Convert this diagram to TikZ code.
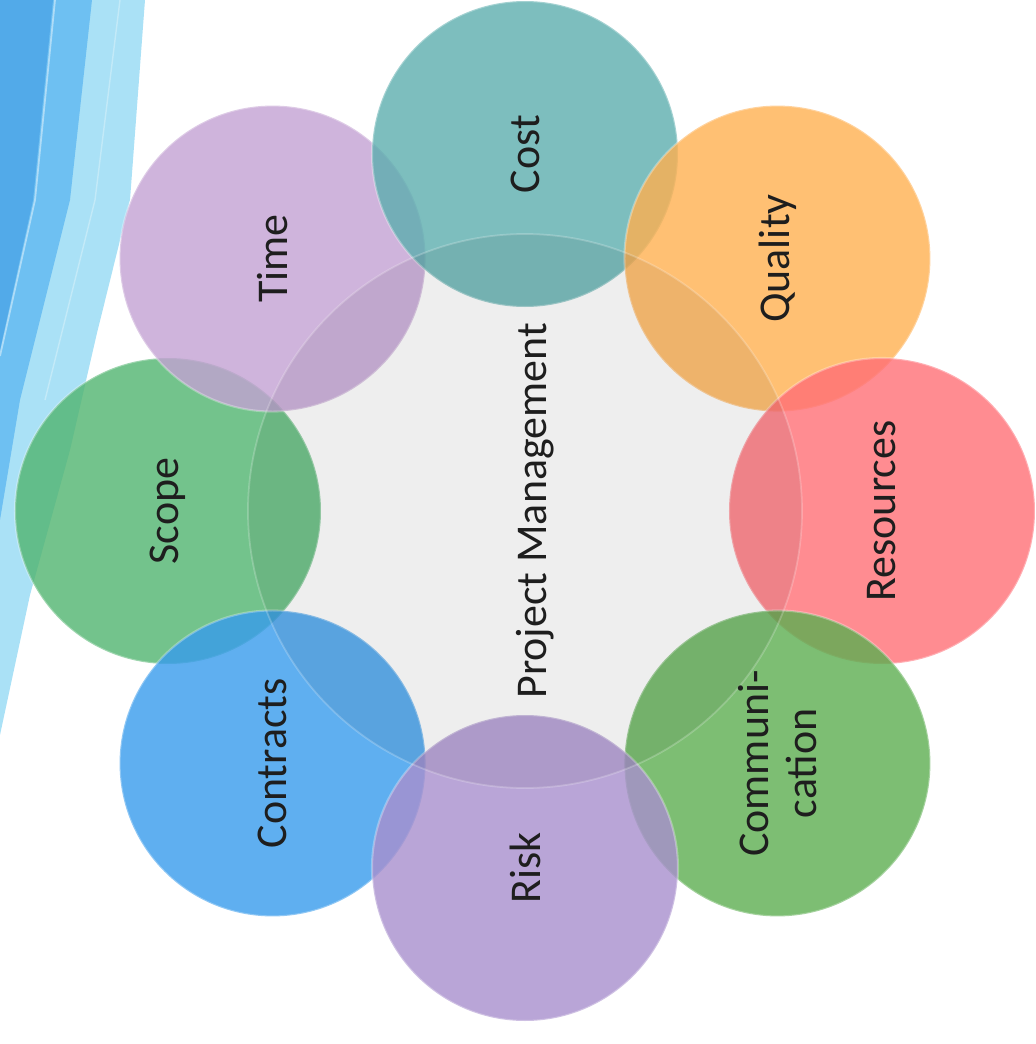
\documentclass[tikz,border=0pt]{standalone}
\usepackage{fontspec}
\setmainfont{Carlito}

\definecolor{costcol}{RGB}{92,174,174}
\definecolor{timecol}{RGB}{195,161,211}
\definecolor{qualcol}{RGB}{255,176,80}
\definecolor{rescol}{RGB}{255,111,118}
\definecolor{commcol}{RGB}{92,174,80}
\definecolor{riskcol}{RGB}{168,143,205}
\definecolor{contcol}{RGB}{55,155,236}
\definecolor{scopecol}{RGB}{80,180,111}
\definecolor{stripedark}{RGB}{82,170,233}
\definecolor{stripemid}{RGB}{110,192,242}
\definecolor{stripelight}{RGB}{170,225,246}
\definecolor{textcol}{RGB}{30,30,30}

\tikzset{
	bubble/.style={shape=circle, minimum size=3.06cm, inner sep=0pt, fill opacity=0.8,
		draw=white, draw opacity=0.3, line width=0.6pt},
	lbl/.style={rotate=90, text=textcol, font=\fontsize{12.5}{13.5}\selectfont, align=center},
}

\begin{document}
\begin{tikzpicture}
	\useasboundingbox (-5.25,-5.33) rectangle (5.11,5.11);

	% blue stripes on the left
	\fill[stripelight] (-5.25,5.11) -- (-3.80,5.11) -- (-3.95,3.11) -- (-4.28,1.78)
		-- (-4.55,0.61) -- (-4.95,-0.84) -- (-5.25,-2.24) -- cycle;
	\fill[stripemid]   (-5.25,5.11) -- (-4.33,5.11) -- (-4.55,3.11) -- (-5.05,1.11) -- (-5.25,-0.09) -- cycle;
	\fill[stripedark]  (-5.25,5.11) -- (-4.72,5.11) -- (-4.92,3.11) -- (-5.25,1.61) -- cycle;
	\draw[white, opacity=0.45, line width=0.5pt] (-4.70,5.11) -- (-4.90,3.11) -- (-5.25,1.55);
	\draw[white, opacity=0.3, line width=0.4pt] (-4.05,5.11) -- (-4.30,3.11) -- (-4.80,1.11);

	% circles
	\node[bubble, fill=scopecol]  (scope) at (180:3.57) {};
	\node[bubble, fill=contcol]   (cont)  at (-135:3.57) {};
	\node[bubble, fill=timecol]   (time)  at (135:3.57) {};
	\node[bubble, fill=costcol]   (cost)  at (90:3.57) {};
	\node[bubble, fill=qualcol]   (qual)  at (45:3.57) {};
	\node[bubble, fill=rescol]    (res)   at (0:3.57) {};
	\node[bubble, fill=commcol]   (comm)  at (-45:3.57) {};
	\node[bubble, fill=riskcol]   (risk)  at (-90:3.57) {};

	% centre
	\node[shape=circle, minimum size=5.54cm, inner sep=0pt, fill=black, fill opacity=0.065,
		draw=white, draw opacity=0.22, line width=0.5pt] (hub) at (0,0) {};

	% labels
	\node[lbl] (pm)     at (0.1,0)  {Project Management};
	\node[lbl] (costl)  at (cost)   {Cost};
	\node[lbl] (quall)  at (qual)   {Quality};
	\node[lbl] (resl)   at (res)    {Resources};
	\node[lbl] (comml)  at (comm)   {Communi-\\cation};
	\node[lbl] (riskl)  at (risk)   {Risk};
	\node[lbl] (contl)  at (cont)   {Contracts};
	\node[lbl] (scopel) at (scope)  {Scope};
	\node[lbl] (timel)  at (time)   {Time};
\end{tikzpicture}
\end{document}
